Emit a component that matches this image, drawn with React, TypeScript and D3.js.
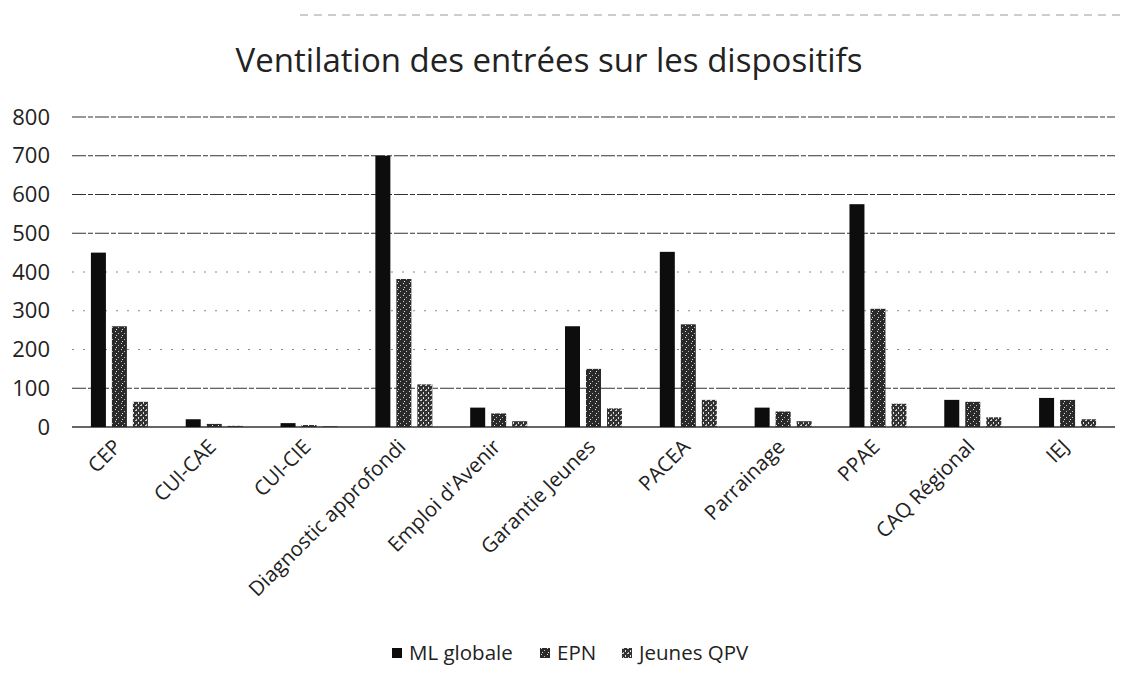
import React from "react";
import { scaleBand, scaleLinear } from "d3";

const categories = [
  "CEP",
  "CUI-CAE",
  "CUI-CIE",
  "Diagnostic approfondi",
  "Emploi d'Avenir",
  "Garantie Jeunes",
  "PACEA",
  "Parrainage",
  "PPAE",
  "CAQ Régional",
  "IEJ",
];
const mlGlobale = [450, 20, 10, 700, 50, 260, 452, 50, 575, 70, 75];
const epn = [260, 8, 5, 382, 35, 150, 265, 40, 305, 65, 70];
const jeunesQpv = [65, 3, 2, 110, 15, 48, 70, 15, 60, 25, 20];
const yTicks = [0, 100, 200, 300, 400, 500, 600, 700, 800];

const series = [
  { name: "ML globale", values: mlGlobale, fill: "#0d0d0d" },
  { name: "EPN", values: epn, fill: "url(#speckle-epn)" },
  { name: "Jeunes QPV", values: jeunesQpv, fill: "url(#speckle-qpv)" },
];

const W = 1124;
const H = 685;
const margin = { top: 117, right: 9, bottom: 258, left: 72 };
const font = "'Open Sans', Lato, sans-serif";

export default function App() {
  const innerH = H - margin.top - margin.bottom;

  const x = scaleBand()
    .domain(categories)
    .range([margin.left, W - margin.right])
    .paddingInner(0)
    .paddingOuter(0);

  const y = scaleLinear().domain([0, 800]).range([margin.top + innerH, margin.top]);

  const barW = 15;
  const gap = 6;
  const groupW = barW * 3 + gap * 2;

  const legendX = [392, 540, 622];

  return (
    <div style={{ position: "absolute", left: 0, top: 0, width: W, height: H, background: "#fff" }}>
      <svg width={W} height={H} style={{ display: "block" }}>
        <defs>
          {/* noisy scan look for the two lighter series */}
          <pattern id="speckle-epn" width="6" height="6" patternUnits="userSpaceOnUse">
            <rect width="6" height="6" fill="#2a2a2a" />
            <rect x="1" y="1" width="1" height="1" fill="#d8d8d8" />
            <rect x="4" y="3" width="1" height="1" fill="#bdbdbd" />
            <rect x="2" y="5" width="1" height="1" fill="#e6e6e6" />
          </pattern>
          <pattern id="speckle-qpv" width="5" height="5" patternUnits="userSpaceOnUse">
            <rect width="5" height="5" fill="#333" />
            <rect x="0" y="0" width="2" height="1" fill="#cfcfcf" />
            <rect x="3" y="2" width="1" height="2" fill="#e0e0e0" />
            <rect x="1" y="4" width="1" height="1" fill="#bbb" />
          </pattern>
        </defs>

        {/* faint scan artefact line across the top */}
        <line x1={300} x2={1120} y1={15} y2={15} stroke="#9a9a9a" strokeDasharray="8,6" strokeWidth={1} />

        <text
          x={549}
          y={72}
          textAnchor="middle"
          fontFamily={font}
          fontSize={33}
          fill="#222"
        >
          Ventilation des entrées sur les dispositifs
        </text>

        {/* Grid lines */}
        {yTicks.map((t) => {
          const faint = t >= 200 && t <= 400;
          return (
            <line
              key={t}
              x1={margin.left}
              x2={W - margin.right}
              y1={y(t)}
              y2={y(t)}
              stroke={faint ? "#8a8a8a" : "#333"}
              strokeWidth={t === 0 ? 1.5 : 1}
              strokeDasharray={faint ? "2,9" : t === 0 ? undefined : "14,2,5,2"}
            />
          );
        })}

        {/* Y axis labels */}
        {yTicks.map((t) => (
          <text
            key={t}
            x={50}
            y={y(t)}
            dy="0.35em"
            textAnchor="end"
            fontFamily={font}
            fontSize={22}
            fill="#222"
          >
            {t}
          </text>
        ))}

        {/* Bars */}
        {categories.map((c, i) => {
          const cx = x(c)! + x.bandwidth() / 2;
          const x0 = cx - groupW / 2;
          return (
            <g key={c}>
              {series.map((s, j) => (
                <rect
                  key={s.name}
                  x={x0 + j * (barW + gap)}
                  y={y(s.values[i])}
                  width={barW}
                  height={y(0) - y(s.values[i])}
                  fill={s.fill}
                />
              ))}
            </g>
          );
        })}

        {/* X axis labels */}
        {categories.map((c) => {
          const cx = x(c)! + x.bandwidth() / 2 - 2;
          const ty = y(0) + 16;
          return (
            <text
              key={c}
              transform={`translate(${cx},${ty}) rotate(-45)`}
              textAnchor="end"
              dy="0.35em"
              fontFamily={font}
              fontSize={20.5}
              fill="#222"
            >
              {c}
            </text>
          );
        })}

        {/* Legend */}
        {series.map((s, j) => (
          <g key={s.name} transform={`translate(${legendX[j]},${653})`}>
            <rect x={0} y={-5} width={10} height={10} fill={s.fill} />
            <text x={17} y={0} dy="0.35em" fontFamily={font} fontSize={20.5} fill="#222">
              {s.name}
            </text>
          </g>
        ))}
      </svg>
    </div>
  );
}
